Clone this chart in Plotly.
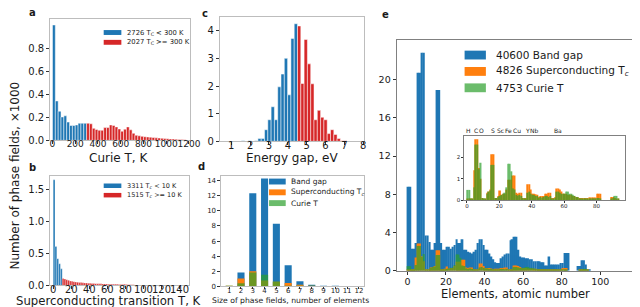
import plotly.graph_objects as go

W, H = 640, 307
FONT = "DejaVu Sans"
BLUE, RED, ORANGE, GREEN = "#1f77b4", "#d62728", "#ff7f0e", "#2ca02c"

# ---------------- data ----------------
# a: Curie temperature histogram (x1000 phase fields), 25 K bins from 0 K
curie_bin_width = 25
curie_low = [1.01, 0.345, 0.255, 0.205, 0.215, 0.16, 0.13, 0.13, 0.135, 0.15, 0.15, 0.15]
curie_high = [0.15, 0.145, 0.105, 0.095, 0.088, 0.088, 0.112, 0.112, 0.135, 0.13, 0.118, 0.1,
              0.08, 0.098, 0.118, 0.092, 0.062, 0.045, 0.04, 0.035, 0.032, 0.03, 0.028, 0.025,
              0.022, 0.02, 0.018, 0.016, 0.015, 0.013, 0.012, 0.01, 0.008, 0.007, 0.005, 0.004]

# b: superconducting transition histogram, 2 K bins from 0 K
sc_bin_width = 2
sc_low = [1.655, 0.61, 0.42, 0.34, 0.26]
sc_high = [0.11, 0.10, 0.09, 0.08, 0.07, 0.065, 0.06, 0.055, 0.05, 0.048, 0.045, 0.042, 0.04,
           0.038, 0.035, 0.033, 0.03, 0.03, 0.028, 0.027, 0.025, 0.025, 0.024, 0.022, 0.022,
           0.02, 0.02, 0.02, 0.018, 0.02, 0.018, 0.016, 0.016, 0.015, 0.018, 0.014, 0.012,
           0.012, 0.01, 0.01, 0.008, 0.006, 0.005]

# c: energy gap histogram
gap_first_center = 1.45
gap_bin_width = 0.175
gap_low = [0.01, 0.02, 0.01, 0.02, 0.0, 0.02, 0.1, 0.1, 0.42, 0.78, 1.25, 0.78, 1.97, 2.43,
           3.0, 1.68, 3.72, 4.25]
gap_high = [4.17, 2.09, 3.68, 2.8, 2.08, 0.78, 1.12, 0.87, 0.78, 0.28, 0.42, 0.25, 0.1, 0.02, 0.02]

# d: size of phase fields
sizes = list(range(1, 13))
d_band = [0.0, 1.85, 12.3, 14.25, 8.28, 2.8, 0.68, 0.2, 0.07, 0.06, 0.0, 0.0]
d_sc = [0.1, 1.05, 2.0, 0.78, 0.62, 0.47, 0.15, 0.03, 0.0, 0.0, 0.0, 0.0]
d_curie = [0.03, 0.42, 1.85, 1.55, 0.65, 0.1, 0.05, 0.01, 0.0, 0.0, 0.0, 0.0]

# e: elements histogram, unit bins [k, k+1]
z_left = list(range(0, 98))
e_band = [8.8, 8.8, 2.3, 2.3, 2.9, 20.7, 20.7, 22.8, 22.8, 3.7,
          3.7, 3.0, 2.2, 2.2, 2.9, 18.9, 18.9, 2.9, 2.2, 2.2,
          2.5, 2.5, 2.3, 2.5, 2.7, 3.3, 2.9, 2.9, 3.3, 2.2,
          2.2, 2.0, 1.9, 1.8, 2.0, 2.2, 2.9, 3.3, 3.3, 2.7,
          2.2, 2.2, 1.8, 1.5, 1.2, 0.9, 0.8, 0.8, 1.3, 1.5,
          1.7, 1.8, 1.8, 3.2, 3.3, 3.55, 3.55, 2.2, 1.5, 1.4,
          1.4, 1.3, 1.3, 1.2, 1.2, 1.0, 1.0, 1.0, 1.0, 0.9,
          0.9, 0.55, 0.55, 1.5, 0.65, 0.65, 0.65, 0.65, 0.65, 0.8,
          0.8, 1.85, 1.85, 1.85, 0, 0, 0, 0, 0.5, 0.5,
          1.1, 1.1, 0.65, 0.15, 0.1, 0, 0, 0]
e_sc = [0.05, 0.05, 0.05, 0.05, 1.4, 2.85, 2.85, 1.5, 1.0, 0.1,
        0.05, 0.05, 0.35, 0.4, 0.5, 2.15, 2.15, 0.1, 0.1, 0.2,
        0.45, 0.25, 0.3, 0.3, 0.5, 0.95, 0.95, 0.95, 1.15, 1.15,
        0.35, 0.3, 0.35, 0.35, 0.1, 0.1, 0.1, 0.75, 0.75, 0.5,
        0.3, 0.3, 0.28, 0.25, 0.15, 0.2, 0.2, 0.2, 0.3, 0.3,
        0.35, 0.35, 0.1, 0.1, 0.15, 0.55, 0.55, 0.5, 0.4, 0.3,
        0.3, 0.3, 0.25, 0.25, 0.25, 0.2, 0.2, 0.15, 0.15, 0.1,
        0.1, 0.1, 0.1, 0.1, 0.1, 0.12, 0.12, 0.12, 0.12, 0.12,
        0.3, 0.3, 0.3, 0, 0, 0, 0, 0, 0, 0.15,
        0.15, 0.1, 0.05, 0.05, 0, 0, 0, 0]
e_curie = [0.48, 0.48, 0.05, 0.05, 0.6, 2.6, 2.6, 1.45, 1.75, 0.1,
           0.05, 0.05, 0.3, 0.4, 0.45, 1.65, 1.65, 0.1, 0.1, 0.15,
           0.2, 0.25, 0.3, 0.35, 0.6, 1.7, 1.7, 1.35, 0.55, 0.5,
           0.25, 0.2, 0.25, 0.2, 0.1, 0.05, 0.05, 0.35, 0.4, 0.3,
           0.25, 0.25, 0.2, 0.2, 0.1, 0.15, 0.1, 0.15, 0.2, 0.2,
           0.15, 0.2, 0.05, 0.05, 0.1, 0.4, 0.4, 0.35, 0.3, 0.3,
           0.3, 0.4, 0.4, 0.3, 0.3, 0.25, 0.2, 0.15, 0.15, 0.08,
           0.08, 0.08, 0.08, 0.08, 0.08, 0.05, 0.05, 0.05, 0.05, 0.05,
           0.1, 0.1, 0.05, 0, 0, 0, 0, 0, 0, 0.05,
           0.1, 0.2, 0.2, 0.05, 0, 0, 0, 0]
inset_labels = ["H", "C", "O", "S", "Sc", "Fe", "Cu", "Y", "Nb", "Ba"]
inset_label_z = [1, 5.8, 8.9, 16, 21, 26, 31.2, 37.6, 41.6, 56]

legend_a = ["2726 T<sub>C</sub> &lt; 300 K", "2027 T<sub>C</sub> &gt;= 300 K"]
legend_b = ["3311 T<sub><i>c</i></sub> &lt; 10 K", "1515 T<sub><i>c</i></sub> &gt;= 10 K"]
legend_d = ["Band gap", "Superconducting T<sub><i>c</i></sub>", "Curie T"]
legend_e = ["40600 Band gap", "4826 Superconducting T<sub><i>c</i></sub>", "4753 Curie T"]


def px(x):
    return x / W


def py(y):
    return 1 - y / H


def centers(first, width, n, offset=0):
    return [first + width * (i + offset) for i in range(n)]


fig = go.Figure()
edge = dict(color="white", width=0.5)

# a
fig.add_trace(go.Bar(x=centers(curie_bin_width / 2, curie_bin_width, len(curie_low)), y=curie_low,
                     width=curie_bin_width, marker=dict(color=BLUE, line=edge), xaxis="x", yaxis="y"))
fig.add_trace(go.Bar(x=centers(curie_bin_width / 2, curie_bin_width, len(curie_high), len(curie_low)),
                     y=curie_high, width=curie_bin_width, marker=dict(color=RED, line=edge),
                     xaxis="x", yaxis="y"))
# b
fig.add_trace(go.Bar(x=centers(sc_bin_width / 2, sc_bin_width, len(sc_low)), y=sc_low,
                     width=sc_bin_width, marker=dict(color=BLUE, line=dict(color="white", width=0.3)),
                     xaxis="x2", yaxis="y2"))
fig.add_trace(go.Bar(x=centers(sc_bin_width / 2, sc_bin_width, len(sc_high), len(sc_low)), y=sc_high,
                     width=sc_bin_width, marker=dict(color=RED, line=dict(color="white", width=0.3)),
                     xaxis="x2", yaxis="y2"))
# c
fig.add_trace(go.Bar(x=centers(gap_first_center, gap_bin_width, len(gap_low)), y=gap_low,
                     width=gap_bin_width, marker=dict(color=BLUE, line=edge), xaxis="x3", yaxis="y3"))
fig.add_trace(go.Bar(x=centers(gap_first_center, gap_bin_width, len(gap_high), len(gap_low)),
                     y=gap_high, width=gap_bin_width, marker=dict(color=RED, line=edge),
                     xaxis="x3", yaxis="y3"))
# d
fig.add_trace(go.Bar(x=sizes, y=d_band, width=0.6, marker=dict(color=BLUE, line_width=0),
                     xaxis="x4", yaxis="y4"))
fig.add_trace(go.Bar(x=sizes, y=d_sc, width=0.6, marker=dict(color=ORANGE, line_width=0),
                     xaxis="x4", yaxis="y4"))
fig.add_trace(go.Bar(x=sizes, y=d_curie, width=0.6, marker=dict(color=GREEN, line_width=0),
                     opacity=0.7, xaxis="x4", yaxis="y4"))
# e main
zc = [z + 0.5 for z in z_left]
fig.add_trace(go.Bar(x=zc, y=e_band, width=1, marker=dict(color=BLUE, line_width=0),
                     xaxis="x5", yaxis="y5"))
fig.add_trace(go.Bar(x=zc, y=e_sc, width=1, marker=dict(color=ORANGE, line_width=0),
                     xaxis="x5", yaxis="y5"))
fig.add_trace(go.Bar(x=zc, y=e_curie, width=1, marker=dict(color=GREEN, line_width=0),
                     opacity=0.7, xaxis="x5", yaxis="y5"))
# e inset
fig.add_trace(go.Bar(x=zc, y=e_sc, width=1, marker=dict(color=ORANGE, line_width=0),
                     xaxis="x6", yaxis="y6"))
fig.add_trace(go.Bar(x=zc, y=e_curie, width=1, marker=dict(color=GREEN, line_width=0),
                     opacity=0.7, xaxis="x6", yaxis="y6"))


def ax(dom, rng, tickvals, ticktext=None, anchor=None, fs=10, lc="#bdbdbd", tl=3, so=0):
    d = dict(domain=dom, range=rng, tickvals=tickvals, showline=True, mirror=True,
             linecolor=lc, linewidth=1, ticks="outside", ticklen=tl, tickwidth=0.8,
             tickcolor="#333333", showgrid=False, zeroline=False, tickangle=0,
             ticklabelstandoff=so,
             tickfont=dict(family=FONT, size=fs, color="#1a1a1a"), anchor=anchor, fixedrange=True)
    if ticktext is not None:
        d["ticktext"] = ticktext
    return d


lay = dict(width=W, height=H, margin=dict(l=0, r=0, t=0, b=0), showlegend=False,
           barmode="overlay", plot_bgcolor="white", paper_bgcolor="white",
           font=dict(family=FONT, color="#1a1a1a"))
# a
lay["xaxis"] = ax([px(42), px(184)], [-20, 1205], list(range(0, 1201, 200)), anchor="y",
                  fs=9, tl=2.5, so=-8)
lay["yaxis"] = ax([py(135), py(11)], [0, 1.064], [0, 0.2, 0.4, 0.6, 0.8],
                  ["0.0", "0.2", "0.4", "0.6", "0.8"], anchor="x")
# b
lay["xaxis2"] = ax([px(42), px(183)], [-3.3, 150], list(range(0, 141, 20)), anchor="y2", tl=2.5, so=-8)
lay["yaxis2"] = ax([py(283), py(171)], [0, 1.72], [0, 0.5, 1.0, 1.5],
                   ["0.0", "0.5", "1.0", "1.5"], anchor="x2")
# c
lay["xaxis3"] = ax([px(215), px(362)], [0.4, 8.05], list(range(1, 9)), anchor="y3", tl=2.5, so=-8)
lay["yaxis3"] = ax([py(136), py(9)], [0, 4.5], [0, 1, 2, 3, 4], anchor="x3")
# d
lay["xaxis4"] = ax([px(216), px(362)], [0.3, 12.45], sizes, anchor="y4", fs=7, tl=2, so=-5)
lay["yaxis4"] = ax([py(284), py(171)], [0, 14.64], list(range(0, 15, 2)), anchor="x4", fs=7, tl=2.5)
# e
lay["xaxis5"] = ax([px(395), px(638)], [-5.6, 118], list(range(0, 101, 20)), anchor="y5",
                   fs=9.5, lc="#808080", so=-1)
lay["yaxis5"] = ax([py(268), py(33)], [0, 24.1], list(range(0, 21, 4)), anchor="x5",
                   fs=9.5, lc="#808080")
# inset
lay["xaxis6"] = ax([px(464), px(628)], [-1.6, 97.8], list(range(0, 81, 20)), anchor="y6",
                   fs=5.5, lc="#808080", tl=2, so=-2)
lay["yaxis6"] = ax([py(196), py(131)], [0, 2.98], [0, 1, 2], anchor="x6", fs=5.5,
                   lc="#808080", tl=2)

ann = []
shapes = []


def text(x, y, s, size, xanchor="center", bold=False, angle=0):
    ann.append(dict(x=px(x), y=py(y), xref="paper", yref="paper", text=("<b>%s</b>" % s) if bold else s,
                    showarrow=False, xanchor=xanchor, yanchor="middle", textangle=angle,
                    font=dict(family=FONT, size=size, color="#1a1a1a")))


def patch(x0, x1, y0, y1, color, opacity=1.0):
    shapes.append(dict(type="rect", xref="paper", yref="paper", x0=px(x0), x1=px(x1),
                       y0=py(y1), y1=py(y0), fillcolor=color, opacity=opacity, line_width=0))


# panel letters
text(24, 5, "a", 10, bold=True)
text(24, 163, "b", 10, bold=True)
text(200, 5.5, "c", 10, bold=True)
text(196.5, 161.5, "d", 10, bold=True)
text(383.5, 6.5, "e", 10, bold=True)

# axis titles
text(6, 171, "Number of phase fields, ×1000", 12, angle=-90)
text(112, 153, "Curie T, K", 12)
text(101, 299, "Superconducting transition T, K", 11.7)
text(288, 153, "Energy gap, eV", 12)
text(286.5, 298, "Size of phase fields, number of elements", 7.7)
text(516.5, 292, "Elements, atomic number", 11.5)

# legends
for i, (s, c) in enumerate(zip(legend_a, [BLUE, RED])):
    yc = 25 + 10 * i
    patch(96.5, 114.5, yc - 2.5, yc + 2.5, c)
    text(118.5, yc, s, 6.8, xanchor="left")
for i, (s, c) in enumerate(zip(legend_b, [BLUE, RED])):
    yc = 181.3 + 9.6 * i
    patch(96.5, 114.5, yc - 2.3, yc + 2.3, c)
    text(118.5, yc, s, 6.5, xanchor="left")
for i, (s, c, o) in enumerate(zip(legend_d, [BLUE, ORANGE, GREEN], [1, 1, 0.7])):
    yc = 177 + 11 * i
    patch(265, 282, yc - 3, yc + 3, c, o)
    text(285, yc, s, 7.5, xanchor="left")
for i, (s, c, o) in enumerate(zip(legend_e, [BLUE, ORANGE, GREEN], [1, 1, 0.7])):
    yc = 48 + 16.7 * i
    patch(464.3, 486, yc - 4.5, yc + 4.5, c, o)
    text(494, yc, s, 10.5, xanchor="left")

# inset element labels on top
for s, z in zip(inset_labels, inset_label_z):
    ann.append(dict(x=z, y=py(125), xref="x6", yref="paper", text=s, showarrow=False,
                    xanchor="center", yanchor="middle", borderpad=0,
                    font=dict(family=FONT, size=6, color="#1a1a1a")))

lay["annotations"] = ann
lay["shapes"] = shapes
fig.update_layout(**lay)
fig.write_html("out.html")
